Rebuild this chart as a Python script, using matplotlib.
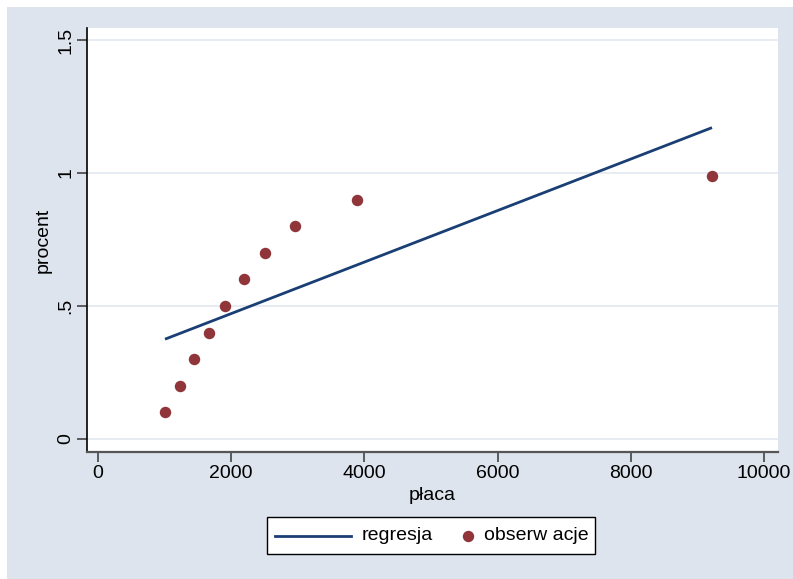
import numpy as np
import matplotlib
matplotlib.use("Agg")
import matplotlib.pyplot as plt
from matplotlib.patches import Rectangle
from matplotlib.lines import Line2D

# data
placa = [1006, 1231, 1441, 1667, 1907, 2192, 2508, 2958, 3889, 9219]
procent = [0.10, 0.20, 0.30, 0.40, 0.50, 0.60, 0.70, 0.80, 0.90, 0.99]
x_ticks = [0, 2000, 4000, 6000, 8000, 10000]
x_ticklabels = ["0", "2000", "4000", "6000", "8000", "10000"]
y_ticks = [0, 0.5, 1, 1.5]
y_ticklabels = ["0", ".5", "1", "1.5"]
legend_labels = ["regresja", "obserw acje"]

BG = "#dde4ee"
NAVY = "#1a3f74"
MAROON = "#903539"
GRID = "#e3e8f0"
FS = 14

plt.rcParams['font.family'] = ['Liberation Sans', 'DejaVu Sans']

W, H = 793, 579
fig = plt.figure(figsize=(W / 100, H / 100), dpi=100)
fig.patch.set_facecolor("white")
fig.add_artist(Rectangle((7 / W, 0), 1 - 7 / W, 572 / H, transform=fig.transFigure,
                         facecolor=BG, edgecolor="none", zorder=-10))

ax = fig.add_axes([87 / W, 127 / H, 691 / W, 424 / H])
ax.set_facecolor("white")

# regression line fitted on the observations
slope, intercept = np.polyfit(placa, procent, 1)
xs = np.array([min(placa), max(placa)])
ax.plot(xs, intercept + slope * xs, color=NAVY, lw=2.0, zorder=3, solid_capstyle='butt')
ax.scatter(placa, procent, s=68, color=MAROON, zorder=4, linewidths=0)

ax.set_xlim(-165, 10210)
ax.set_ylim(-0.049, 1.545)

ax.set_xticks(x_ticks)
ax.set_xticklabels(x_ticklabels)
ax.set_yticks(y_ticks)
ax.set_yticklabels(y_ticklabels, rotation=90, va='center')

ax.yaxis.grid(True, color=GRID, lw=1.2)
ax.set_axisbelow(True)

for s in ["top", "right"]:
    ax.spines[s].set_visible(False)
ax.spines["left"].set_color("black")
ax.spines["left"].set_linewidth(1.2)
ax.spines["bottom"].set_color("#555555")
ax.spines["bottom"].set_linewidth(1.6)

ax.tick_params(axis='both', direction='out', length=7, width=1.2, color="#444444",
               labelsize=FS, labelcolor="black")
ax.tick_params(axis='x', pad=2)
ax.tick_params(axis='y', pad=2)

ax.set_xlabel("płaca", fontsize=FS, labelpad=4)
ax.set_ylabel("procent", fontsize=FS, labelpad=4)


# legend drawn in figure pixel coordinates
def fx(px):
    return px / W


def fy(py):
    return 1 - py / H


fig.add_artist(Rectangle((fx(267), fy(554)), fx(595) - fx(267), fy(517) - fy(554),
                         transform=fig.transFigure, facecolor="white",
                         edgecolor="black", lw=1.0, zorder=5))
cy = fy(536)
fig.add_artist(Line2D([fx(275), fx(351)], [cy, cy], transform=fig.transFigure,
                      color=NAVY, lw=2.0, zorder=6))
fig.text(fx(362), cy, legend_labels[0], fontsize=FS, va='center', ha='left', zorder=6)
fig.add_artist(Line2D([fx(468)], [cy], transform=fig.transFigure, marker='o',
                      markersize=8.2, markerfacecolor=MAROON, markeredgewidth=0,
                      linestyle='none', zorder=6))
fig.text(fx(484), cy, legend_labels[1], fontsize=FS, va='center', ha='left', zorder=6)

fig.savefig("out.png", dpi=100, facecolor=fig.get_facecolor())
